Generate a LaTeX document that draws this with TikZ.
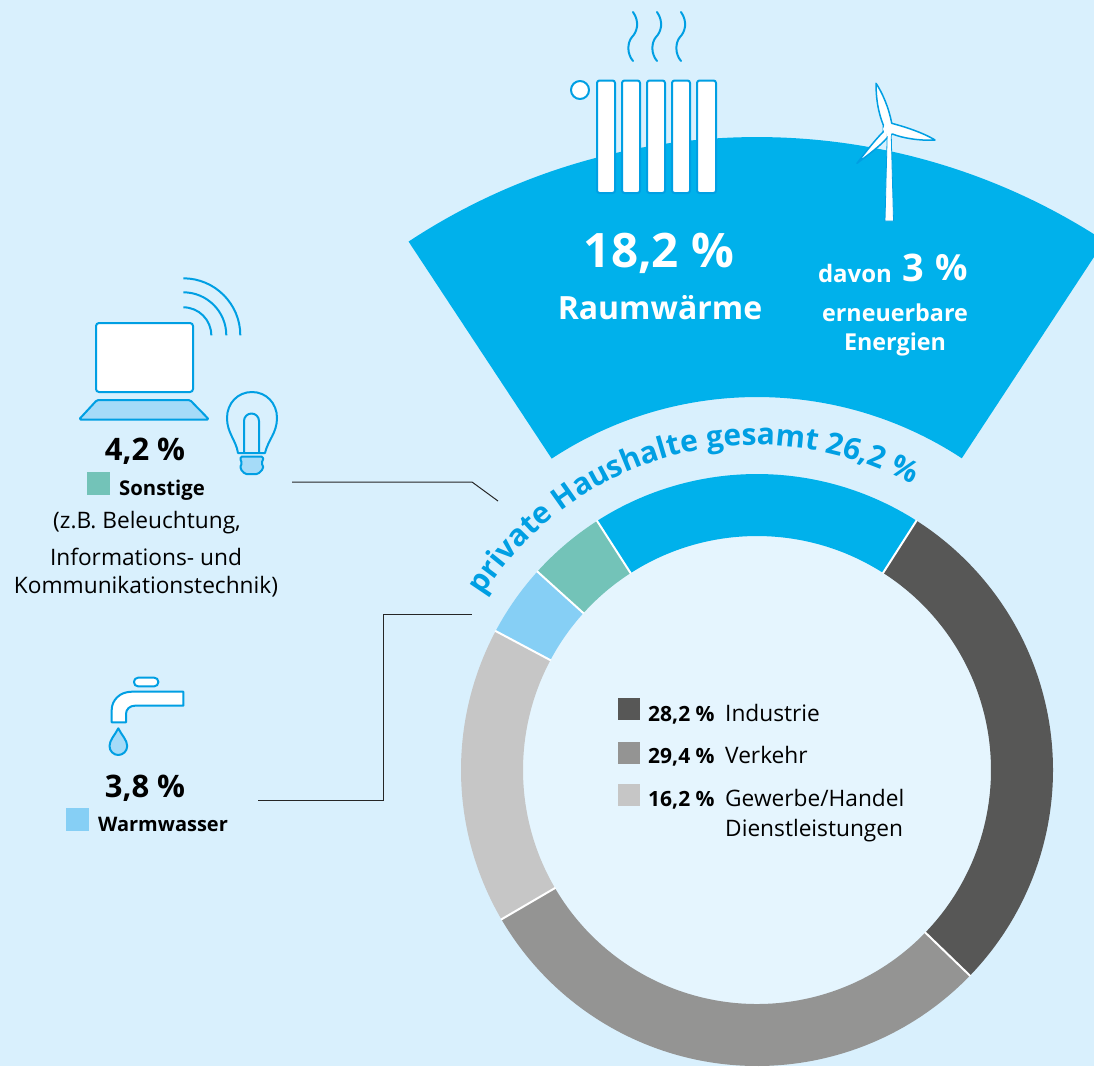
\documentclass[tikz,border=0pt]{standalone}
\usepackage{fontspec}
\setmainfont{Open Sans}
\usetikzlibrary{decorations.text}
\definecolor{bgc}{HTML}{D9F0FD}
\definecolor{innerc}{HTML}{E5F5FE}
\definecolor{bigblue}{HTML}{00B1EB}
\definecolor{lineblue}{HTML}{009FE3}
\definecolor{darkg}{HTML}{575756}
\definecolor{midg}{HTML}{949493}
\definecolor{lightg}{HTML}{C6C6C6}
\definecolor{tealc}{HTML}{73C3B8}
\definecolor{skyc}{HTML}{86CFF5}
\definecolor{paleb}{HTML}{A5DBF8}
\newcommand{\fs}[1]{\fontsize{#1pt}{#1pt}\selectfont}
\newcommand{\arcfont}{\fontsize{30pt}{30pt}\selectfont\bfseries\color{lineblue}}
\tikzset{x=1pt,y=1pt,
 icon/.style={draw=lineblue,line width=2pt,fill=white,line join=round},
 iconpale/.style={draw=lineblue,line width=2pt,fill=paleb,line join=round},
 iconline/.style={draw=lineblue,line width=2pt,line cap=round},
 leader/.style={draw=black!85,line width=1pt},
 lab/.style={inner sep=0pt,text=black},
 wlab/.style={inner sep=0pt,text=white,font=\bfseries},
 swatch/.style={minimum width=23pt,minimum height=23pt,inner sep=0pt,draw=none},
}
\newcommand{\seg}[4]{\fill[#3] (#1:296) arc[start angle=#1,end angle=#2,radius=296] -- (#2:#4) arc[start angle=#2,end angle=#1,radius=#4] -- cycle;}
\begin{document}
\begin{tikzpicture}
\useasboundingbox (0,0) rectangle (1094,-1066);
\clip (0,0) rectangle (1094,-1066);
\fill[bgc] (0,0) rectangle (1094,-1066);
\begin{scope}[shift={(757,-770)}]
 % big sector
 \fill[bigblue] (56.7:633) arc[start angle=56.7,end angle=123.4,radius=633] -- (123.4:373) arc[start angle=123.4,end angle=56.7,radius=373] -- cycle;
 % ring
 \fill[innerc] (0,0) circle[radius=236];
 \seg{57.4}{122.7}{bigblue}{234}
 \seg{122.7}{137.9}{tealc}{234}
 \seg{137.9}{152}{skyc}{234}
 \seg{152}{210.3}{lightg}{234}
 \seg{210.3}{316}{midg}{234}
 \seg{316}{417.4}{darkg}{234}
 \foreach \a in {57.4,122.7,137.9,152,210.3,316}{\draw[white,line width=2pt] (\a:233.5) -- (\a:296.5);}
 % curved title
 \path[postaction={decorate},decoration={text along path,text align=left,
   text={|\arcfont|private Haushalte gesamt 26,2}}]
   (147.6:325) arc[start angle=147.6,end angle=50,radius=325];
 \node[inner sep=0pt,font=\bfseries\fs{30},text=lineblue,rotate=-26,anchor=base] (tpct) at (63.7:325) {\%};
\end{scope}

% radiator
\node[icon,circle,minimum size=18pt,inner sep=0pt] (valve) at (580,-90) {};
\foreach \xa/\xb in {597/615,622/640,647/665,672/690,697/716}{
 \draw[icon,rounded corners=2.5pt] (\xa,-80.5) rectangle (\xb,-193);
}
\foreach \dx in {0,24,48}{
 \draw[iconline,xshift=\dx] (633,-12) .. controls (640,-22) and (637,-32) .. (632,-37) .. controls (627,-43) and (627,-54) .. (633,-61);
}
% wind turbine
\draw[icon,line width=1.5pt,miter limit=10] (876,-83.3) .. controls (882,-92) and (889,-108) .. (891.7,-123.3)
  .. controls (902,-126) and (922,-132) .. (935,-140)
  .. controls (920,-141) and (902,-138) .. (892.5,-134)
  -- (886.7,-138.3) .. controls (880,-146) and (868,-155) .. (857,-163.3)
  .. controls (864,-154) and (875,-140) .. (883.3,-131.7)
  -- (883.3,-125) .. controls (878,-112) and (876,-98) .. (876,-83.3) -- cycle;
\fill[white] (888.5,-129) circle[radius=5.5];
\draw[draw=lineblue,line width=0.8pt,fill=white] (885,-221) -- (887.2,-134) -- (891.2,-134) -- (893.5,-221) -- cycle;
\fill[white] (887.3,-130) rectangle (891.1,-136);

% texts in the sector
\node[wlab,font=\bfseries\fs{47.5}] (t182) at (659,-253) {18,2 \%};
\node[wlab,font=\bfseries\fs{32}] (traum) at (660,-308) {Raumwärme};
\node[wlab,font=\bfseries\fs{24}] (tdavon) at (855,-273) {davon};
\node[wlab,font=\bfseries\fs{38}] (tdrei) at (913,-268) {3};
\node[wlab,font=\bfseries\fs{36}] (tproz) at (952,-268) {\%};
\node[wlab,font=\bfseries\fs{23.3}] (terneu) at (895,-313) {erneuerbare};
\node[wlab,font=\bfseries\fs{23.3}] (tener) at (895,-344) {Energien};

% laptop
\draw[icon,rounded corners=3pt] (96,-323) rectangle (193,-392);
\draw[iconpale,rounded corners=1.5pt] (79,-419.5) -- (97,-400) -- (190,-400) -- (209,-419.5) -- cycle;
\foreach \r in {28,43,57}{
 \draw[draw=lineblue,line width=2pt] (183.3,-335.3) ++(0,\r) arc[start angle=90,end angle=0,radius=\r];
}
% bulb
\draw[icon,fill=none] (238,-453) .. controls (236,-440) and (227,-433) .. (227,-418) .. controls (227,-403) and (238,-392) .. (252,-392) .. controls (266,-392) and (277,-403) .. (277,-418) .. controls (277,-433) and (268,-440) .. (265,-453) -- cycle;
\draw[icon,fill=none] (244,-453) -- (244,-421) arc[start angle=180,end angle=0,radius=7.5] -- (259,-453);
\draw[iconpale,rounded corners=1.5pt] (240.5,-456.5) -- (263,-456.5) -- (263,-461) -- (261,-463) -- (263,-465) -- (263,-469) -- (258,-474) -- (245,-474) -- (240.5,-469) -- (240.5,-465) -- (242.5,-463) -- (240.5,-461) -- cycle;

% Sonstige
\node[lab,font=\bfseries\fs{31}] (t42) at (145,-451) {4,2 \%};
\node[swatch,fill=tealc] (swS) at (98.5,-483.5) {};
\node[lab,font=\bfseries\fs{20.3}] (tson) at (162,-490) {Sonstige};
\node[lab,font=\fs{22.7}] (tz1) at (147,-523) {(z.B. Beleuchtung,};
\node[lab,font=\fs{22.7}] (tz2) at (146,-557) {Informations- und};
\node[lab,font=\fs{22.7}] (tz3) at (146,-587) {Kommunikationstechnik)};
\coordinate (la) at (292,-482);
\coordinate (lb) at (472,-482);
\coordinate (lc) at (498,-501);
\draw[leader] (la) -- (lb) -- (lc);

% tap
\draw[icon,rounded corners=4pt] (134,-677.7) rectangle (158.3,-686.3);
\draw[icon] (111.7,-722.3) -- (126,-722.3) -- (126,-714) .. controls (126,-709) and (130,-705.7) .. (135,-705.7) -- (183.3,-705.7) -- (183.3,-691.7) -- (131.7,-691.7) .. controls (120,-691.7) and (111.7,-700) .. (111.7,-710) -- cycle;
\draw[iconpale] (118.3,-728.3) .. controls (115,-735) and (109.5,-740) .. (109.5,-746) .. controls (109.5,-751) and (113.5,-755) .. (118.3,-755) .. controls (123,-755) and (127.2,-751) .. (127.2,-746) .. controls (127.2,-740) and (121.5,-735) .. (118.3,-728.3) -- cycle;

% Warmwasser
\node[lab,font=\bfseries\fs{31}] (t38) at (145,-788) {3,8 \%};
\node[swatch,fill=skyc] (swW) at (77.5,-819.5) {};
\node[lab,font=\bfseries\fs{20}] (twarm) at (163,-824) {Warmwasser};
\coordinate (ma) at (258,-800);
\coordinate (mb) at (383,-800);
\coordinate (mc) at (383,-614);
\coordinate (md) at (472,-614);
\draw[leader] (ma) -- (mb) -- (mc) -- (md);

% legend
\node[swatch,fill=darkg,minimum width=22pt,minimum height=22pt] (sw1) at (629,-709) {};
\node[swatch,fill=midg,minimum width=22pt,minimum height=22pt] (sw2) at (629,-753) {};
\node[swatch,fill=lightg,minimum width=22pt,minimum height=22pt] (sw3) at (629,-795) {};
\node[lab,font=\bfseries\fs{21},anchor=base west] (p1) at (648,-721) {28,2 \%};
\node[lab,font=\bfseries\fs{21},anchor=base west] (p2) at (648,-763) {29,4 \%};
\node[lab,font=\bfseries\fs{21},anchor=base west] (p3) at (648,-806) {16,2 \%};
\node[lab,font=\fs{22.7},anchor=base west] (l1) at (725,-721) {Industrie};
\node[lab,font=\fs{22.7},anchor=base west] (l2) at (725,-763) {Verkehr};
\node[lab,font=\fs{22.7},anchor=base west] (l3) at (725,-806) {Gewerbe/Handel};
\node[lab,font=\fs{22.7},anchor=base west] (l4) at (725,-836) {Dienstleistungen};
\end{tikzpicture}
\end{document}
